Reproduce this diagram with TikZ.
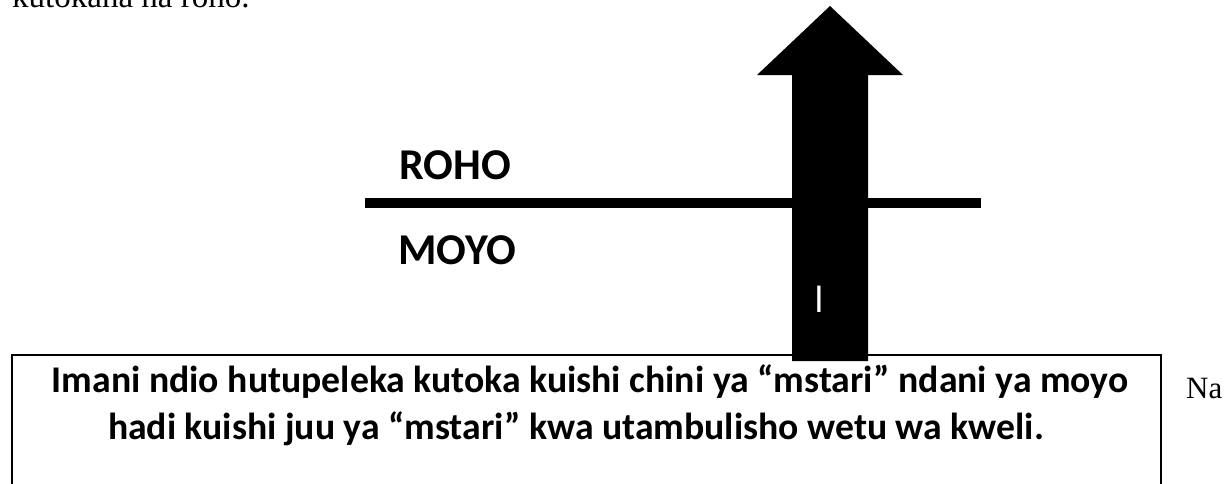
\documentclass[tikz,border=0pt]{standalone}
\usepackage{fontspec}
\setmainfont{Liberation Serif}
\newfontfamily\calibri{Carlito}
\begin{document}
\begin{tikzpicture}[x=1pt,y=-1pt,
  lbl/.style={inner sep=0pt,anchor=base west,font=\calibri\bfseries\fontsize{44}{52}\selectfont},
  boxtxt/.style={inner sep=0pt,anchor=base,font=\calibri\bfseries\fontsize{37.7}{44}\selectfont},
  serif/.style={inner sep=0pt,anchor=base west,font=\fontsize{33}{40}\selectfont}]
\useasboundingbox (0,0) rectangle (1232,483);
\clip (0,0) rectangle (1232,483);
% top cut-off text
\node[serif] (top) at (12,7) {kutokana na roho.};
% horizontal line
\coordinate (lineL) at (365,203);
\coordinate (lineR) at (981,203);
\draw[line width=10pt] (lineL) -- (lineR);
% labels
\node[lbl] (roho) at (399,179) {ROHO};
\node[lbl] (moyo) at (398,264) {MOYO};
% box
\draw[line width=1.6pt] (12,500) -- (12,355) -- (1161,355) -- (1161,500);
\node[boxtxt] (l1) at (590,392) {Imani ndio hutupeleka kutoka kuishi chini ya “mstari” ndani ya moyo};
\node[boxtxt] (l2) at (576,439) {hadi kuishi juu ya “mstari” kwa utambulisho wetu wa kweli.};
% arrow
\fill[black] (792,361) -- (792,75) -- (757,75) -- (830,6) -- (903,75) -- (868,75) -- (868,361) -- cycle;
\node[inner sep=0pt,anchor=base,text=white,font=\calibri\fontsize{38}{44}\selectfont] (mark) at (819,312) {l};
% side text
\node[serif,font=\fontsize{31}{36}\selectfont] (na) at (1186,398) {Na};
\end{tikzpicture}
\end{document}
